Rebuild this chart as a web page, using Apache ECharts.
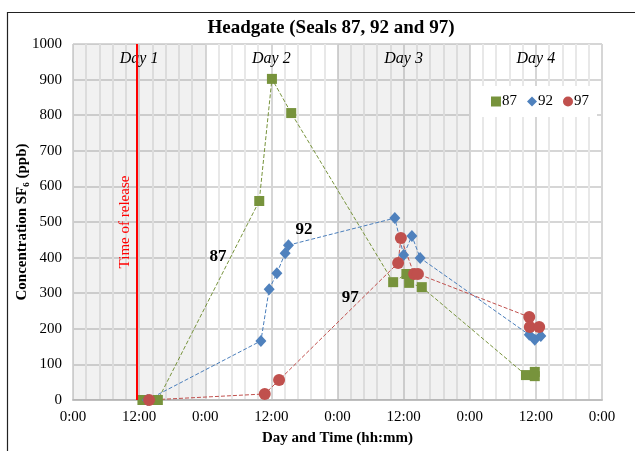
<!DOCTYPE html>
<html><head><meta charset="utf-8">
<script src="https://cdn.jsdelivr.net/npm/echarts@6/dist/echarts.min.js"></script>
<style>html,body{margin:0;padding:0;background:#fff}#c{width:635px;height:451px}</style>
</head><body><div id="c"></div>
<script>
// hours since Day 1 0:00, concentration in ppb
var hours87 = [12.6, 15.4, 33.8, 36.1, 39.6, 58.1, 60.5, 61.0, 63.3, 82.2, 83.8, 83.8];
var ppb87   = [0, 0, 559, 902, 806, 331, 354, 329, 317, 70, 79, 67];
var hours92 = [13.5, 34.1, 35.6, 37.0, 38.5, 39.1, 58.4, 60.0, 61.5, 63.0, 82.8, 83.8, 84.9];
var ppb92   = [0, 166, 311, 356, 412, 435, 511, 407, 461, 399, 183, 169, 180];
var hours97 = [13.8, 34.8, 37.4, 59.0, 59.5, 61.9, 62.6, 82.8, 82.9, 84.6];
var ppb97   = [0, 17, 56, 385, 455, 354, 354, 233, 205, 205];
var seriesNames = ['87', '92', '97'];
var dayLabels = ['Day 1', 'Day 2', 'Day 3', 'Day 4'];
var dayStart = [0, 24, 48, 72];
var releaseHour = 11.5;
var annot = [['87', 26.3, 402], ['92', 41.9, 480], ['97', 50.3, 287]];

function pairs(h, v) { return h.map(function (x, i) { return [x, v[i]]; }); }
var serif = '"Liberation Serif","DejaVu Serif",serif';

var chart = echarts.init(document.getElementById('c'), null, {renderer: 'canvas'});
chart.setOption({
  animation: false,
  backgroundColor: '#fff',
  textStyle: {fontFamily: serif},
  title: {
    text: 'Headgate (Seals 87, 92 and 97)',
    left: 326, top: 14, textAlign: 'center',
    textStyle: {fontFamily: serif, fontWeight: 'bold', fontSize: 19, color: '#000'}
  },
  graphic: [{
    type: 'rect', silent: true, z: 100,
    shape: {x: 7.5, y: 12.5, width: 700, height: 500},
    style: {fill: 'none', stroke: '#222', lineWidth: 1.2}
  }],
  legend: {
    right: 38, top: 86,
    backgroundColor: '#fff',
    padding: [8, 8, 8, 20],
    itemWidth: 10, itemHeight: 10, itemGap: 10,
    textStyle: {fontFamily: serif, fontSize: 15, color: '#000', padding: [0, 0, 0, -4]},
    data: [
      {name: seriesNames[0], icon: 'rect'},
      {name: seriesNames[1], icon: 'diamond'},
      {name: seriesNames[2], icon: 'circle'}
    ]
  },
  grid: {left: 73, right: 33, top: 44, bottom: 51, outerBoundsMode: 'none', containLabel: false},
  xAxis: {
    type: 'value', min: 0, max: 96, interval: 12,
    name: 'Day and Time (hh:mm)', nameLocation: 'middle', nameGap: 31, nameMoveOverlap: false,
    nameTextStyle: {fontFamily: serif, fontWeight: 'bold', fontSize: 15, color: '#000'},
    axisLine: {show: true, lineStyle: {color: '#bfbfbf', width: 2}},
    axisTick: {show: false},
    axisLabel: {
      margin: 10, fontFamily: serif, fontSize: 15, color: '#000',
      formatter: function (v) { return (v % 24 === 0) ? '0:00' : '12:00'; }
    },
    splitLine: {show: true, lineStyle: {color: '#d6d6d6', width: 2}},
    minorTick: {show: false, splitNumber: 5},
    minorSplitLine: {show: true, lineStyle: {color: '#e8e8e8', width: 2}}
  },
  yAxis: {
    type: 'value', min: 0, max: 1000, interval: 100,
    name: 'Concentration SF\u2086 (ppb)', nameLocation: 'middle', nameGap: 43, nameMoveOverlap: false,
    nameTextStyle: {fontFamily: serif, fontWeight: 'bold', fontSize: 15, color: '#000'},
    axisLine: {show: false}, axisTick: {show: false},
    axisLabel: {margin: 11, fontFamily: serif, fontSize: 15, color: '#000',
                formatter: function (v) { return String(v); }},
    splitLine: {show: true, lineStyle: {color: '#d6d6d6', width: 2}}
  },
  series: [
    {
      name: 'bands', type: 'line', data: [], silent: true,
      markArea: {
        silent: true,
        label: {
          show: true, position: 'insideTop', distance: 7,
          fontFamily: serif, fontStyle: 'italic', fontSize: 16, color: '#000'
        },
        data: dayLabels.map(function (d, i) {
          return [{name: d, xAxis: dayStart[i], itemStyle: {color: i % 2 === 0 ? 'rgba(120,120,120,0.1)' : 'rgba(255,255,255,0)'}},
                  {xAxis: dayStart[i] + 24}];
        })
      }
    },
    {
      name: 'release', type: 'line', data: [], silent: true,
      markLine: {
        silent: true, symbol: 'none',
        lineStyle: {color: '#ff0000', width: 2, type: 'solid'},
        label: {
          show: true, position: 'insideMiddleTop', distance: 4,
          formatter: 'Time of release',
          fontFamily: serif, fontSize: 15, color: '#ff0000'
        },
        data: [{xAxis: releaseHour}]
      },
      markPoint: {
        symbol: 'circle', symbolSize: 0, silent: true,
        label: {show: true, position: 'inside', fontFamily: serif, fontWeight: 'bold', fontSize: 17, color: '#000',
                formatter: function (p) { return p.name; }},
        data: annot.map(function (a) { return {name: a[0], coord: [a[1], a[2]]}; })
      }
    },
    {
      name: seriesNames[0], type: 'line', data: pairs(hours87, ppb87),
      symbol: 'rect', symbolSize: 10,
      itemStyle: {color: '#77933c'},
      lineStyle: {color: '#77933c', width: 1, type: [4, 2]}
    },
    {
      name: seriesNames[1], type: 'line', data: pairs(hours92, ppb92),
      symbol: 'diamond', symbolSize: [11, 12],
      itemStyle: {color: '#4f81bd'},
      lineStyle: {color: '#4a7ebb', width: 1, type: [4, 2]}
    },
    {
      name: seriesNames[2], type: 'line', data: pairs(hours97, ppb97),
      symbol: 'circle', symbolSize: 12,
      itemStyle: {color: '#c0504d'},
      lineStyle: {color: '#c0504d', width: 1, type: [4, 2]}
    }
  ]
});
</script>
</body></html>
